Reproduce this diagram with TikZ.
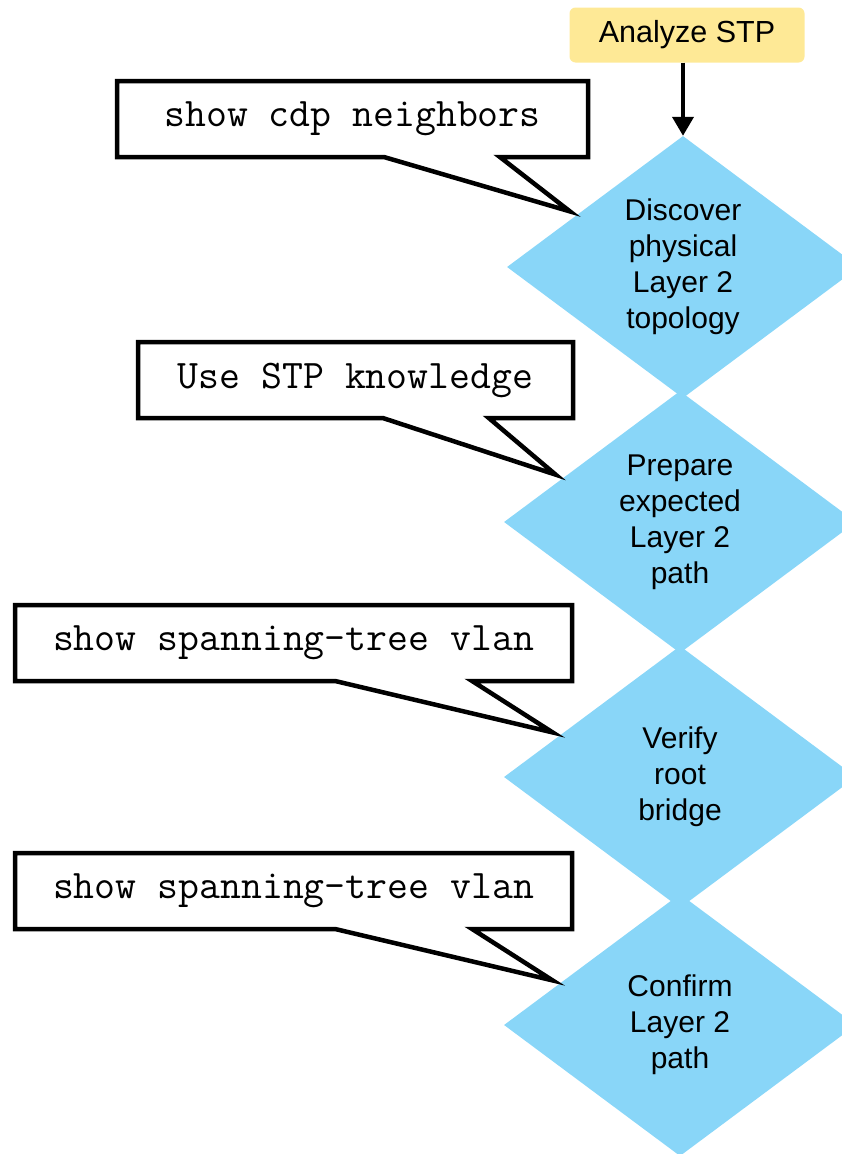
\documentclass[tikz,border=0pt]{standalone}
\usepackage{fontspec}
\setmainfont{Liberation Sans}
\usepackage{tikz}
\usetikzlibrary{shapes.geometric,shapes.callouts,arrows.meta,calc}
\definecolor{stpblue}{RGB}{137,214,248}
\definecolor{stpyellow}{RGB}{254,233,150}

\begin{document}
\begin{tikzpicture}[
        x=1pt, y=-1pt,
        stepdia/.style={diamond, fill=stpblue, minimum width=352pt, minimum height=262pt,
            inner sep=0pt, align=center, font=\fontsize{30pt}{36pt}\selectfont},
        startbox/.style={rectangle, rounded corners=6pt, fill=stpyellow, minimum width=235pt,
            minimum height=55pt, font=\fontsize{30.5pt}{36pt}\selectfont},
        cmd/.style={rectangle callout, draw, line width=4.5pt, fill=white, minimum height=76pt,
            inner sep=0pt, callout pointer shorten=8pt, font=\ttfamily\fontsize{40.6pt}{44pt}\selectfont},
    ]
        \useasboundingbox (0,0) rectangle (842,1154);
        \clip (0,0) rectangle (842,1154);

        \node[startbox] (stp) at (687,35) {Analyze STP};
        \node[stepdia] (d1) at (683,267) {Discover\\physical\\Layer 2\\topology};
        \node[stepdia] (d2) at (680,522) {Prepare\\expected\\Layer 2\\path};
        \node[stepdia] (d3) at (680,777) {Verify\\root\\bridge};
        \node[stepdia] (d4) at (680,1025) {Confirm\\Layer 2\\path};

        \draw[-{Triangle[width=21pt,length=19pt]}, line width=4pt] (stp.south -| d1) -- (d1);

        % Commands
        \coordinate (t1) at ($(d1.west)!0.4!(d1.north)$);
        \coordinate (t2) at ($(d2.west)!0.335!(d2.north)$);
        \coordinate (t3) at ($(d3.west)!0.32!(d3.north)$);
        \coordinate (t4) at ($(d4.west)!0.32!(d4.north)$);

        \node[cmd, minimum width=471pt, callout absolute pointer={(t1)}, callout pointer width=116pt] (c1) at (352.5,119) {show cdp neighbors};
        \node[cmd, minimum width=435pt, callout absolute pointer={(t2)}, callout pointer width=106pt] (c2) at (355.5,380) {Use STP knowledge};
        \node[cmd, minimum width=557pt, callout absolute pointer={(t3)}, callout pointer width=137pt] (c3) at (293.5,643) {show spanning-tree vlan};
        \node[cmd, minimum width=557pt, callout absolute pointer={(t4)}, callout pointer width=137pt] (c4) at (293.5,891) {show spanning-tree vlan};
    \end{tikzpicture}
\end{document}
